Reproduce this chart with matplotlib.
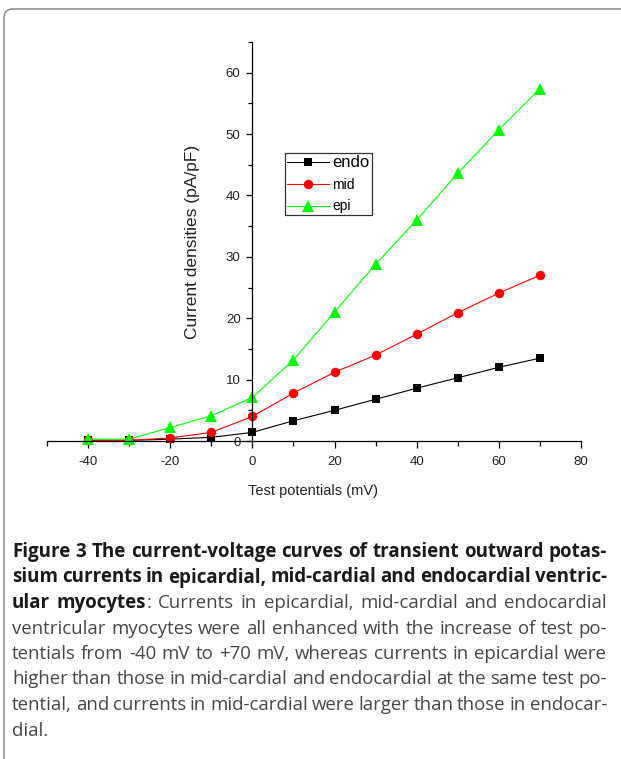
import matplotlib
matplotlib.use('Agg')
import matplotlib.pyplot as plt
from matplotlib.patches import FancyBboxPatch
from matplotlib.transforms import IdentityTransform
from matplotlib.ticker import MultipleLocator

plt.rcParams['font.family'] = ['Liberation Sans', 'DejaVu Sans']
plt.rcParams['axes.unicode_minus'] = False

# data (test potential in mV, current density in pA/pF)
potentials = [-40, -30, -20, -10, 0, 10, 20, 30, 40, 50, 60, 70]
endo = [0.1, 0.1, 0.3, 0.6, 1.4, 3.3, 5.0, 6.8, 8.6, 10.3, 12.0, 13.5]
mid = [0.1, 0.1, 0.5, 1.4, 4.0, 7.8, 11.2, 14.0, 17.4, 20.9, 24.1, 27.0]
epi = [0.3, 0.3, 2.2, 4.1, 7.1, 13.2, 21.0, 28.8, 36.0, 43.6, 50.7, 57.4]
series_names = ['endo', 'mid', 'epi']

caption = [
    [("Figure 3 The current-voltage curves of transient outward potas-", 'bold')],
    [("sium currents in epicardial, mid-cardial and endocardial ventric-", 'bold')],
    [("ular myocytes", 'bold'), (": Currents in epicardial, mid-cardial and endocardial", 'normal')],
    [("ventricular myocytes were all enhanced with the increase of test po-", 'normal')],
    [("tentials from -40 mV to +70 mV, whereas currents in epicardial were", 'normal')],
    [("higher than those in mid-cardial and endocardial at the same test po-", 'normal')],
    [("tential, and currents in mid-cardial were larger than those in endocar-", 'normal')],
    [("dial.", 'normal')],
]

W, H = 621, 759
fig = plt.figure(figsize=(W / 100, H / 100), dpi=100)

# rounded frame round the whole figure (right/bottom sides run off the page)
frame = FancyBboxPatch((4, -40), 680, 40 + H - 9,
                       boxstyle='round,pad=0,rounding_size=9',
                       transform=IdentityTransform(), fill=False,
                       edgecolor='#808080', linewidth=1.0)
fig.patches.append(frame)

ax = fig.add_axes([47 / W, 1 - 441 / H, 534 / W, 399 / H])
ax.set_xlim(-50, 80)
ax.set_ylim(0, 65)

l1, = ax.plot(potentials, endo, '-s', color='black', lw=0.8, ms=6.2, mew=0, clip_on=False)
l2, = ax.plot(potentials, mid, '-o', color='#ff0000', lw=0.8, ms=6.8, mew=0, clip_on=False)
l3, = ax.plot(potentials, epi, '-^', color='#00ff00', lw=0.8, ms=8.5, mew=0, clip_on=False)

# origin style axes: crossing at (0, 0)
ax.spines['left'].set_position(('data', 0))
ax.spines['bottom'].set_position(('data', 0))
ax.spines['top'].set_visible(False)
ax.spines['right'].set_visible(False)
for s in ['left', 'bottom']:
    ax.spines[s].set_linewidth(0.9)

ax.xaxis.set_minor_locator(MultipleLocator(10))
ax.yaxis.set_major_locator(MultipleLocator(10))
ax.yaxis.set_minor_locator(MultipleLocator(5))
ax.set_xticks([-40, -20, 0, 20, 40, 60, 80])
ax.tick_params(axis='x', which='major', direction='out', length=5, width=0.9, pad=6, labelsize=9.5, labelcolor='#222222')
ax.tick_params(axis='x', which='minor', direction='out', length=3.5, width=0.9)
ax.tick_params(axis='y', which='major', direction='out', length=4.5, width=0.9, pad=4, labelsize=9.5, labelcolor='#222222')
ax.tick_params(axis='y', which='minor', direction='out', length=3, width=0.9)
ax.patch.set_visible(False)

ax.set_xlabel('Test potentials (mV)', fontsize=10.5, color='#222222')
ax.xaxis.set_label_coords(0.498, -0.125)
ax.xaxis.label.set_va('center')
ax.set_ylabel('Current densities (pA/pF)', fontsize=12.5, color='#222222')
ax.yaxis.label.set_va('center')
ax.yaxis.set_label_coords(0.273, 0.499)

leg = ax.legend([l1, l2, l3], series_names, loc='upper left',
                bbox_to_anchor=(285 / W, 1 - 153 / H), bbox_transform=fig.transFigure,
                fontsize=10, frameon=True, fancybox=False, framealpha=1,
                edgecolor='#333333', borderpad=0.15, borderaxespad=0,
                handlelength=3.0, handletextpad=0.25, labelspacing=0.55)
leg.get_frame().set_linewidth(0.9)
leg.get_texts()[0].set_fontsize(12)

# caption, justified to the text block width
cap_font = ['Open Sans', 'DejaVu Sans']
renderer = fig.canvas.get_renderer()
left_px, right_px = 12, 607
baselines = [557, 582.5, 608, 633.5, 659, 684.5, 710, 735.5]
colors = {'bold': '#1a1a1a', 'normal': '#474747'}


def text_w(s, weight, size):
    t = fig.text(0, 0, s, fontsize=size, fontweight=weight, fontstretch='normal', family=cap_font)
    w = t.get_window_extent(renderer).width
    t.remove()
    return w


def split_words(segs):
    words = []
    join = False
    for text, wt in segs:
        parts = text.split(' ')
        for i, p in enumerate(parts):
            if i == 0 and join and words:
                if p:
                    words[-1].append((p, wt))
            elif p:
                words.append([(p, wt)])
        join = not text.endswith(' ')
    return words


lines = [split_words(segs) for segs in caption]
base_fs = 12.0
space0 = {wt: text_w('a a', wt, base_fs) - text_w('aa', wt, base_fs) for wt in colors}

# font size per weight, so the widest plain line of that weight just fits
fs = {}
for wt in colors:
    sc = []
    for segs, words in zip(caption[:-1], lines[:-1]):
        if all(s[1] == wt for s in segs):
            nat = sum(text_w(p, w, base_fs) for wd in words for p, w in wd)
            nat += space0[wt] * 0.85 * (len(words) - 1)
            sc.append((right_px - left_px) / nat)
    fs[wt] = base_fs * min(sc)

for k, words in enumerate(lines):
    widths = [[text_w(p, wt, fs[wt]) for p, wt in wd] for wd in words]
    total = sum(sum(w) for w in widths)
    if k < len(lines) - 1 and len(words) > 1:
        gap = (right_px - left_px - total) / (len(words) - 1)
    else:
        gap = space0['normal'] * fs['normal'] / base_fs
    x = left_px
    for wd, ws in zip(words, widths):
        for (p, wt), w in zip(wd, ws):
            fig.text(x / W, 1 - baselines[k] / H, p, fontsize=fs[wt], fontweight=wt,
                     fontstretch='normal', family=cap_font, color=colors[wt],
                     ha='left', va='baseline')
            x += w
        x += gap

fig.savefig('out.png', dpi=100)
